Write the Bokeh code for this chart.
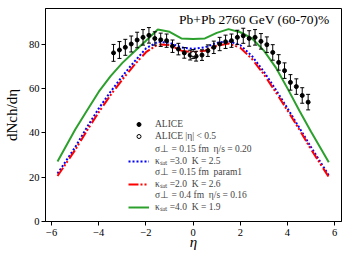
import math
from bokeh.plotting import figure
from bokeh.models import Range1d, FixedTicker, Label, Legend, LegendItem
from bokeh.embed import file_html
from bokeh.resources import INLINE

# ---------------- data ----------------
eta_alice = [-3.375, -3.125, -2.875, -2.625, -2.375, -2.125, -1.875, -1.625, -1.375, -1.125,
             -0.875, -0.625, -0.375, -0.125, 0.125, 0.375, 0.625, 0.875, 1.125, 1.375,
             1.625, 1.875, 2.125, 2.375, 2.625, 2.875, 3.125, 3.375, 3.625, 3.875,
             4.125, 4.375, 4.625, 4.875]
dn_alice = [76.0, 77.3, 78.5, 80.0, 81.8, 83.0, 83.9, 82.5, 81.9, 81.5,
            79.0, 77.7, 76.0, 75.0, 74.5, 75.0, 77.0, 78.5, 80.0, 81.0,
            81.5, 83.0, 83.7, 82.5, 83.0, 81.2, 79.7, 76.2, 71.7, 68.0,
            62.7, 60.8, 56.8, 53.8]
err_alice = [3.8, 3.8, 3.6, 3.6, 3.5, 3.5, 3.5, 3.0, 3.0, 3.0,
             2.8, 2.6, 2.4, 2.2, 2.2, 2.4, 2.6, 2.8, 3.0, 3.0,
             3.0, 3.2, 3.4, 3.5, 3.5, 3.5, 3.5, 3.5, 3.5, 3.5,
             3.5, 3.5, 3.5, 3.5]

eta_mid = [0.0]
dn_mid = [75.5]
err_mid = [2.0]

eta_model = [-5.75, -5.0, -4.5, -4.0, -3.5, -3.0, -2.5, -2.0, -1.5, -1.0, -0.5, 0.0,
             0.5, 1.0, 1.5, 2.0, 2.5, 3.0, 3.5, 4.0, 4.5, 5.0, 5.75]
dn_blue = [21.6, 33.5, 42.5, 51.0, 58.5, 65.5, 72.0, 78.0, 81.0, 80.5, 78.5, 77.8,
           78.5, 80.5, 81.3, 79.5, 74.5, 67.5, 59.5, 51.0, 42.3, 33.5, 20.8]
dn_red = [20.5, 32.3, 41.0, 49.3, 57.0, 64.0, 70.5, 76.3, 79.8, 79.5, 77.0, 76.3,
          77.0, 79.2, 80.2, 78.3, 73.2, 66.3, 58.3, 50.0, 41.5, 32.5, 20.0]
dn_green = [27.0, 41.5, 50.0, 58.5, 65.5, 71.5, 76.5, 81.5, 86.5, 85.5, 82.5, 82.2,
            82.5, 85.0, 86.7, 85.3, 82.5, 77.0, 69.5, 60.0, 50.0, 40.5, 26.7]

x_ticks = [-6, -4, -2, 0, 2, 4, 6]
y_ticks = [0, 20, 40, 60, 80]

label_alice = "ALICE"
label_mid = "ALICE |η| < 0.5"
labels_blue = ["σ⊥ = 0.15 fm  η/s = 0.20", "κₛₐₜ =3.0  K = 2.5"]
labels_red = ["σ⊥ = 0.15 fm  param1", "κₛₐₜ =2.0  K = 2.6"]
labels_green = ["σ⊥ = 0.4 fm  η/s = 0.16", "κₛₐₜ =4.0  K = 1.9"]
title_text = "Pb+Pb 2760 GeV (60-70)%"
x_label = "η"
y_label = "dNch/dη"

FONT = "Liberation Serif"
GREEN = "#2ca02c"

# ---------------- figure ----------------
p = figure(width=349, height=262, output_backend="svg", toolbar_location=None,
           x_range=Range1d(-6.26, 6.29), y_range=Range1d(0, 96),
           min_border_left=43, min_border_right=8, min_border_top=8, min_border_bottom=41)
p.grid.visible = False
p.outline_line_color = "black"
p.outline_line_width = 1
p.outline_line_alpha = 1
p.background_fill_color = "white"
p.border_fill_color = "white"

for ax in (p.xaxis, p.yaxis):
    ax.axis_line_color = "black"
    ax.major_tick_line_color = "black"
    ax.major_tick_out = 4
    ax.major_tick_in = 0
    ax.minor_tick_line_color = None
    ax.major_label_text_font = FONT
    ax.major_label_text_font_size = "10.5px"
    ax.major_label_text_color = "black"
    ax.axis_label_text_font = FONT
    ax.axis_label_text_font_size = "15px"
    ax.axis_label_text_color = "black"
p.xaxis.ticker = FixedTicker(ticks=x_ticks)
p.yaxis.ticker = FixedTicker(ticks=y_ticks)
p.xaxis.major_label_overrides = {t: str(t).replace("-", "\u2212") for t in x_ticks}
p.xaxis.major_label_standoff = 3
p.yaxis.major_label_standoff = 2
p.xaxis.axis_label = x_label
p.xaxis.axis_label_text_font_style = "italic"
p.xaxis.axis_label_standoff = -5
p.yaxis.axis_label = y_label
p.yaxis.axis_label_text_font_style = "normal"
p.yaxis.axis_label_standoff = 6

# model curves
r_blue = p.line(eta_model, dn_blue, line_color="blue", line_width=2, line_dash="2 2")
r_red = p.line(eta_model, dn_red, line_color="red", line_width=2, line_dash="10 2 2 2 2 3")
r_green = p.line(eta_model, dn_green, line_color=GREEN, line_width=2)

# ALICE data with error bars
lo = [y - e for y, e in zip(dn_alice, err_alice)]
hi = [y + e for y, e in zip(dn_alice, err_alice)]
p.segment(x0=eta_alice, y0=lo, x1=eta_alice, y1=hi, line_color="black", line_width=1)
p.scatter(eta_alice, lo, marker="dash", size=4, line_color="black", line_width=1)
p.scatter(eta_alice, hi, marker="dash", size=4, line_color="black", line_width=1)
r_alice = p.scatter(eta_alice, dn_alice, marker="circle", size=4,
                    fill_color="black", line_color="black")

lo_m = [y - e for y, e in zip(dn_mid, err_mid)]
hi_m = [y + e for y, e in zip(dn_mid, err_mid)]
p.segment(x0=eta_mid, y0=lo_m, x1=eta_mid, y1=hi_m, line_color="black", line_width=1)
p.scatter(eta_mid, lo_m, marker="dash", size=4, line_color="black", line_width=1)
p.scatter(eta_mid, hi_m, marker="dash", size=4, line_color="black", line_width=1)
r_mid = p.scatter(eta_mid, dn_mid, marker="circle", size=5,
                  fill_color="white", line_color="black", line_width=1)

# legend-only helpers (no data)
r_vbar = p.scatter(x=[], y=[], marker="dash", angle=math.pi / 2, size=11,
                   line_color="black", line_width=1)
r_none = p.line(x=[], y=[], line_alpha=0)


def make_legend(items, loc, spacing=0):
    leg = Legend(items=items, location=loc)
    leg.border_line_color = None
    leg.background_fill_alpha = 0
    leg.padding = 0
    leg.margin = 0
    leg.spacing = spacing
    leg.glyph_width = 21
    leg.glyph_height = 10
    leg.label_height = 10
    leg.label_standoff = 6
    leg.label_text_font = FONT
    leg.label_text_font_size = "9.5px"
    leg.label_text_baseline = "middle"
    p.add_layout(leg)
    return leg


make_legend([LegendItem(label=label_alice, renderers=[r_vbar, r_alice]),
             LegendItem(label=label_mid, renderers=[r_vbar, r_mid])], (83, 80), spacing=2)
make_legend([LegendItem(label=labels_blue[0], renderers=[r_none]),
             LegendItem(label=labels_blue[1], renderers=[r_blue])], (83, 54))
make_legend([LegendItem(label=labels_red[0], renderers=[r_none]),
             LegendItem(label=labels_red[1], renderers=[r_red])], (83, 31))
make_legend([LegendItem(label=labels_green[0], renderers=[r_none]),
             LegendItem(label=labels_green[1], renderers=[r_green])], (83, 8))

# title text inside the frame
p.add_layout(Label(x=284, y=202, x_units="screen", y_units="screen", text=title_text,
                   text_font=FONT, text_font_size="13.5px", text_align="right",
                   text_baseline="middle", text_color="black"))

open("out.html", "w").write(file_html(p, INLINE))
